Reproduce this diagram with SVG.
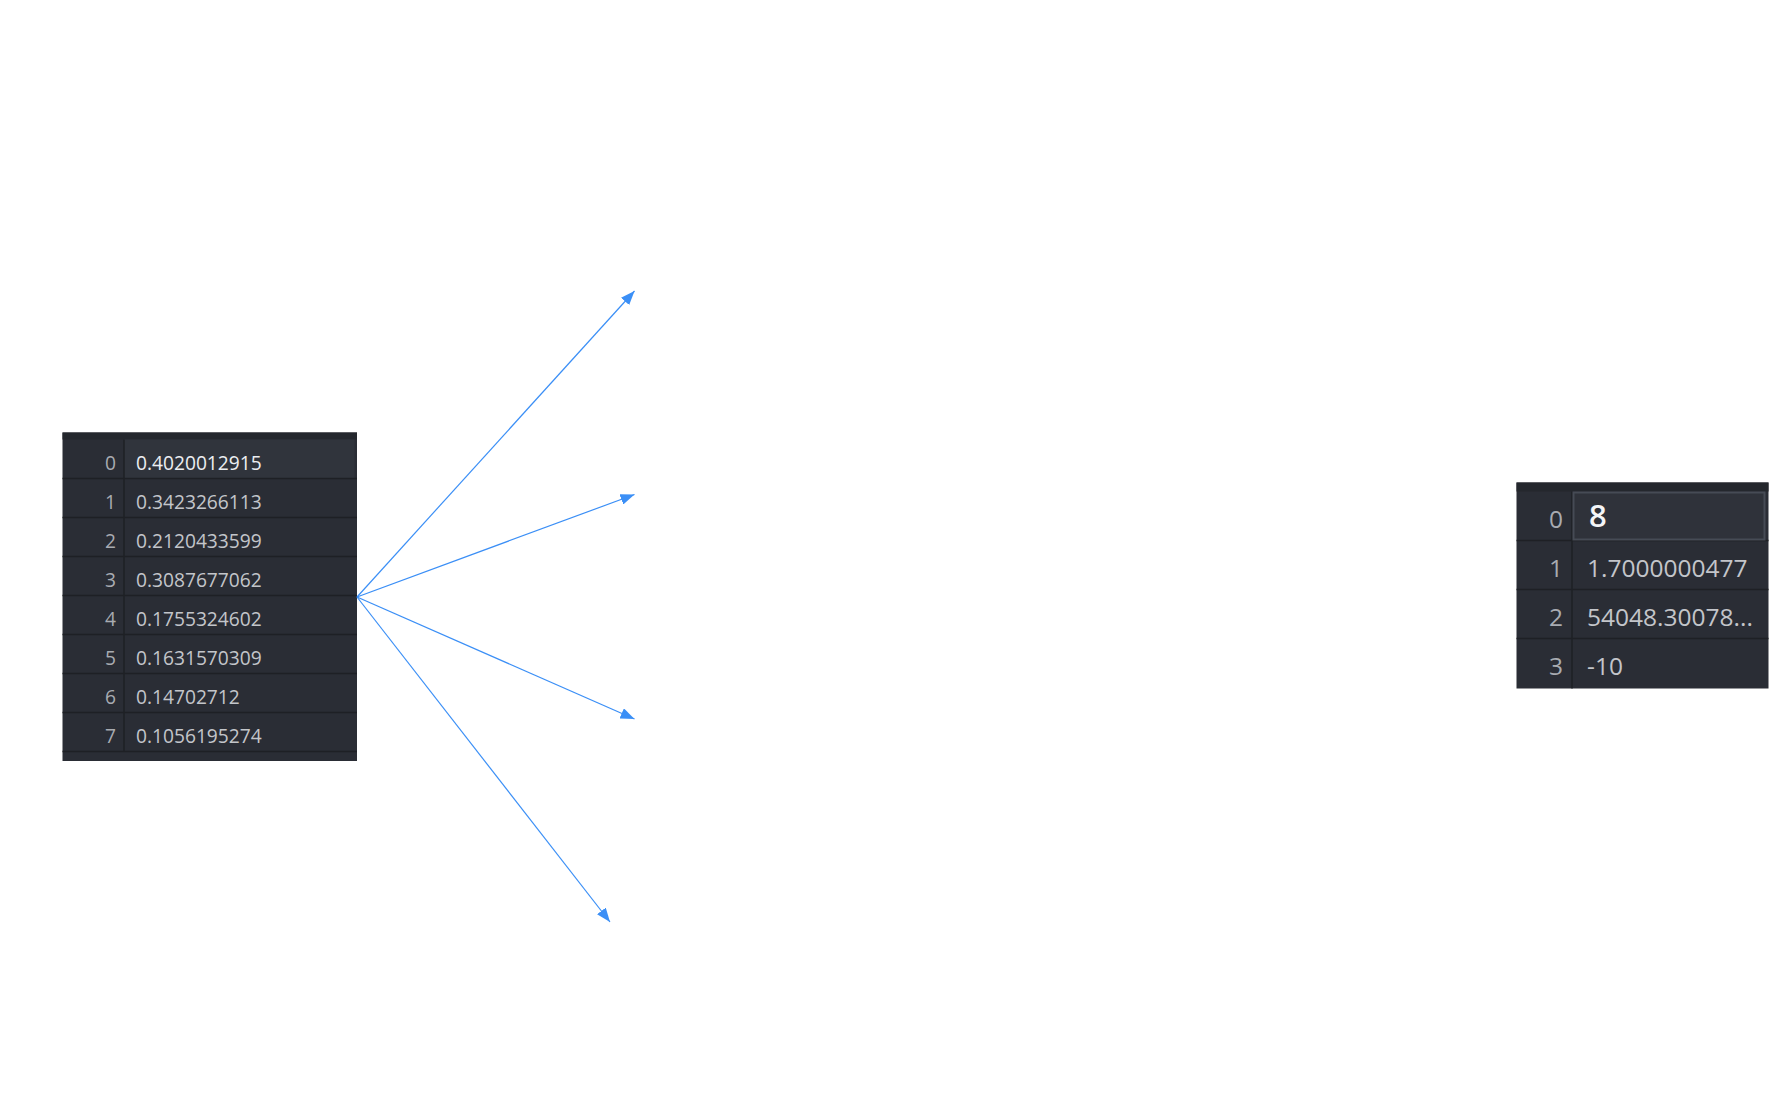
<svg xmlns="http://www.w3.org/2000/svg" width="1781" height="1099" viewBox="0 0 1781 1099">
  <style>
    .tbl { fill: #2a2d35; }
    .hdr { fill: #24272d; }
    .sep { stroke: #1e2025; stroke-width: 1.5; }
    .idx { font-family: "Open Sans", "Noto Sans", "DejaVu Sans", sans-serif; fill: #a8abb1; text-anchor: end; }
    .val { font-family: "Open Sans", "Noto Sans", "DejaVu Sans", sans-serif; fill: #c3c5ca; }
    .s1 { font-size: 19.2px; }
    .s2 { font-size: 24.5px; }
    .conn { stroke: #3b8ff6; stroke-width: 1.2; fill: none; marker-end: url(#ah); }
  </style>
  <defs>
    <marker id="ah" markerUnits="userSpaceOnUse" markerWidth="15" markerHeight="11" refX="14" refY="5.5" orient="auto">
      <path d="M0,0 L14,5.5 L0,11 z" fill="#3b8ff6"/>
    </marker>
  </defs>
  <rect x="0" y="0" width="1781" height="1099" fill="#ffffff"/>

  <g id="left-table">
    <rect class="tbl" x="62.5" y="432.5" width="294.5" height="328.5"/>
    <rect class="hdr" x="62.5" y="432.5" width="294.5" height="7"/>
    <rect x="124" y="439.5" width="230.5" height="39" fill="#30343c"/>
    <line class="sep" x1="124" y1="439.5" x2="124" y2="751.5"/>
    <line class="sep" x1="62.5" y1="478.5" x2="357" y2="478.5"/>
    <line class="sep" x1="62.5" y1="517.5" x2="357" y2="517.5"/>
    <line class="sep" x1="62.5" y1="556.5" x2="357" y2="556.5"/>
    <line class="sep" x1="62.5" y1="595.5" x2="357" y2="595.5"/>
    <line class="sep" x1="62.5" y1="634.5" x2="357" y2="634.5"/>
    <line class="sep" x1="62.5" y1="673.5" x2="357" y2="673.5"/>
    <line class="sep" x1="62.5" y1="712.5" x2="357" y2="712.5"/>
    <line class="sep" x1="62.5" y1="751.5" x2="357" y2="751.5"/>
    <g class="idx s1">
      <text x="116" y="470">0</text>
      <text x="116" y="509">1</text>
      <text x="116" y="548">2</text>
      <text x="116" y="587">3</text>
      <text x="116" y="626">4</text>
      <text x="116" y="665">5</text>
      <text x="116" y="704">6</text>
      <text x="116" y="743">7</text>
    </g>
    <g class="val s1">
      <text x="136" y="470" fill="#eceef1">0.4020012915</text>
      <text x="136" y="509">0.3423266113</text>
      <text x="136" y="548">0.2120433599</text>
      <text x="136" y="587">0.3087677062</text>
      <text x="136" y="626">0.1755324602</text>
      <text x="136" y="665">0.1631570309</text>
      <text x="136" y="704">0.14702712</text>
      <text x="136" y="743">0.1056195274</text>
    </g>
  </g>

  <g id="right-table">
    <rect class="tbl" x="1516.5" y="482.5" width="252" height="206"/>
    <rect class="hdr" x="1516.5" y="482.5" width="252" height="9"/>
    <line class="sep" x1="1572" y1="491.5" x2="1572" y2="688.5"/>
    <line class="sep" x1="1516.5" y1="540.5" x2="1768.5" y2="540.5"/>
    <line class="sep" x1="1516.5" y1="589.5" x2="1768.5" y2="589.5"/>
    <line class="sep" x1="1516.5" y1="638.5" x2="1768.5" y2="638.5"/>
    <rect x="1573.5" y="492.5" width="191" height="47" fill="#2f323a" stroke="#464b55" stroke-width="2"/>
    <g class="idx s2">
      <text x="1563" y="528">0</text>
      <text x="1563" y="577">1</text>
      <text x="1563" y="626">2</text>
      <text x="1563" y="675">3</text>
    </g>
    <g class="val s2">
      <text x="1589" y="527" font-size="31" font-weight="600" fill="#f4f5f7">8</text>
      <text x="1587" y="577">1.7000000477</text>
      <text x="1587" y="626">54048.30078...</text>
      <text x="1587" y="675">-10</text>
    </g>
  </g>

  <g id="connectors">
    <line class="conn" x1="357" y1="597" x2="634.5" y2="291"/>
    <line class="conn" x1="357" y1="597" x2="634.5" y2="494.5"/>
    <line class="conn" x1="357" y1="597" x2="634.5" y2="719"/>
    <line class="conn" x1="357" y1="597" x2="610" y2="922"/>
  </g>
</svg>
